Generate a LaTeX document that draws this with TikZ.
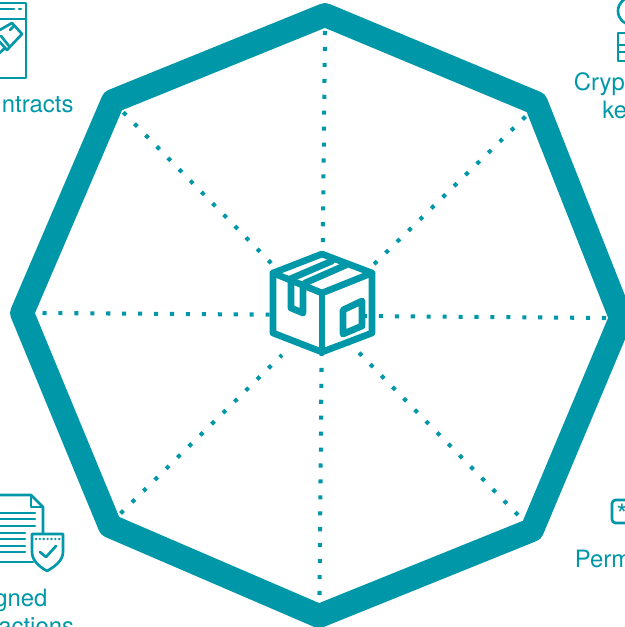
\documentclass[tikz,border=0pt]{standalone}
\usepackage{fontspec}
\setmainfont{TeX Gyre Heros}
\usetikzlibrary{positioning}
\definecolor{teal1}{HTML}{0098A8}

\begin{document}
\begin{tikzpicture}[x=0.02cm, y=-0.02cm]
    \tikzset{
        rim/.style      =   { draw=teal1
                            , line width=13.6pt
                            , line join=round
        }
        , spoke/.style  =   { draw=teal1
                            , line width=2.3pt
                            , dash pattern=on 2.3pt off 6.77pt
        }
        , icon/.style   =   { draw=teal1
                            , line width=1.5pt
                            , line join=round
                            , line cap=round
        }
        , crate/.style  =   { draw=teal1
                            , line width=3.8pt
                            , line join=round
                            , line cap=round
        }
        , caption/.style =  { text=teal1
                            , anchor=base west
                            , inner sep=0pt
                            , font=\fontsize{13.6pt}{16pt}\selectfont
        }
    }
    \useasboundingbox (0,0) rectangle (625,627);
    \clip (0,0) rectangle (625,627);

    % rim
    \coordinate(v1) at (325,15);
    \coordinate(v2) at (536,103);
    \coordinate(v3) at (621,318);
    \coordinate(v4) at (532,530);
    \coordinate(v5) at (319,616);
    \coordinate(v6) at (110,526);
    \coordinate(v7) at (22,313);
    \coordinate(v8) at (113,101);
    \draw[rim] (v1) -- (v2) -- (v3) -- (v4) -- (v5) -- (v6) -- (v7) -- (v8) -- cycle;

    % spokes
    \coordinate(box) at (322,315);
    \coordinate(s1) at (325,31);
    \coordinate(s2) at (525.4,116.6);
    \coordinate(s3) at (606,318);
    \coordinate(s4) at (518,515);
    \coordinate(s5) at (319.5,595);
    \coordinate(s6) at (120.6,513.4);
    \coordinate(s7) at (42.5,313);
    \coordinate(s8) at (123.3,112.3);
    \coordinate(nub) at (363,316);
    \coordinate(tail) at (282,355);
    \draw[spoke] (s1) -- (box);
    \draw[spoke] (s2) -- (box);
    \draw[spoke] (s4) -- (box);
    \draw[spoke] (s5) -- (box);
    \draw[spoke] (s6) -- (tail);
    \draw[spoke] (s7) -- (box);
    \draw[spoke] (s8) -- (box);

    % crate
    \draw[crate, fill=white] (322,254) -- (372,273) -- (372,333) -- (322,352) -- (273,333) -- (273,273) -- cycle;
    \draw[crate] (273,273) -- (322,293) -- (372,273);
    \draw[crate] (322,293) -- (322,352);
    \draw[crate] (290,279) -- (332,261);
    \draw[crate] (305,283) -- (346,265);
    \draw[crate] (291,280) -- (291,308) -- (303,313) -- (303,285);
    \draw[crate] (343,310) -- (362,301) -- (362,326) -- (343,334) -- cycle;
    \draw[spoke] (s3) -- (nub);

    % contract icon
    \draw[icon] (-5,3) -- (26,3) -- (26,78) -- (-5,78);
    \draw[icon] (-5,19) -- (26,19);
    \draw[icon] (0,9) -- (14,9);
    \draw[icon] (19,9) -- (21,9);
    \draw[icon] (-2,31) -- (12,23) -- (22,34) -- (7,50) -- (-2,40);
    \draw[icon] (1,36) -- (9,46);
    \draw[icon] (10,30) -- (13,27);
    \draw[icon] (-5,57) -- (5,48);
    \node(contracts)[caption] at (1.5,112) {ntracts};

    % key icon
    \draw[icon] (632,11) circle (14);
    \draw[icon] (630,33) -- (618,33) -- (618,61) -- (630,61);
    \draw[icon] (618,45) -- (630,45);
    \draw[icon] (618,52) -- (630,52);
    \node(crypto)[caption] at (573.5,90) {Cryp};
    \node(keys)[caption] at (602,118) {ke};

    % signed icon
    \draw[icon] (-5,495) -- (31,495) -- (43,507) -- (43,534);
    \draw[icon] (31,495) -- (31,507) -- (43,507);
    \draw[icon] (-5,562) -- (33,562);
    \draw[icon] (-5,513) -- (35,513);
    \draw[icon] (-5,519) -- (35,519);
    \draw[icon] (-5,526) -- (35,526);
    \draw[icon] (-5,533) -- (25,533);
    \draw[icon] (-5,539) -- (25,539);
    \draw[icon] (-5,546) -- (25,546);
    \draw[icon] (-5,552) -- (25,552);
    \draw[icon, fill=white] (32,534) -- (63,534) -- (63,552) .. controls (63,561) and (54,567) .. (47,571) .. controls (40,567) and (32,561) .. (32,552) -- cycle;
    \draw[icon, dash pattern=on 0pt off 2.2pt] (36,539) -- (60,539);
    \draw[icon] (40,552) -- (46,557) -- (56,546);
    \node(signed)[caption] at (-6,606) {gned};
    \node(transactions)[caption] at (-2,634) {actions};

    % permission icon
    \draw[icon, rounded corners=2pt] (635,500) -- (612,500) -- (612,523) -- (635,523);
    \node(star)[text=teal1, inner sep=0pt, font=\fontsize{16pt}{16pt}\selectfont] at (622,514) {*};
    \node(perm)[caption] at (574.5,567) {Perm};
\end{tikzpicture}
\end{document}
